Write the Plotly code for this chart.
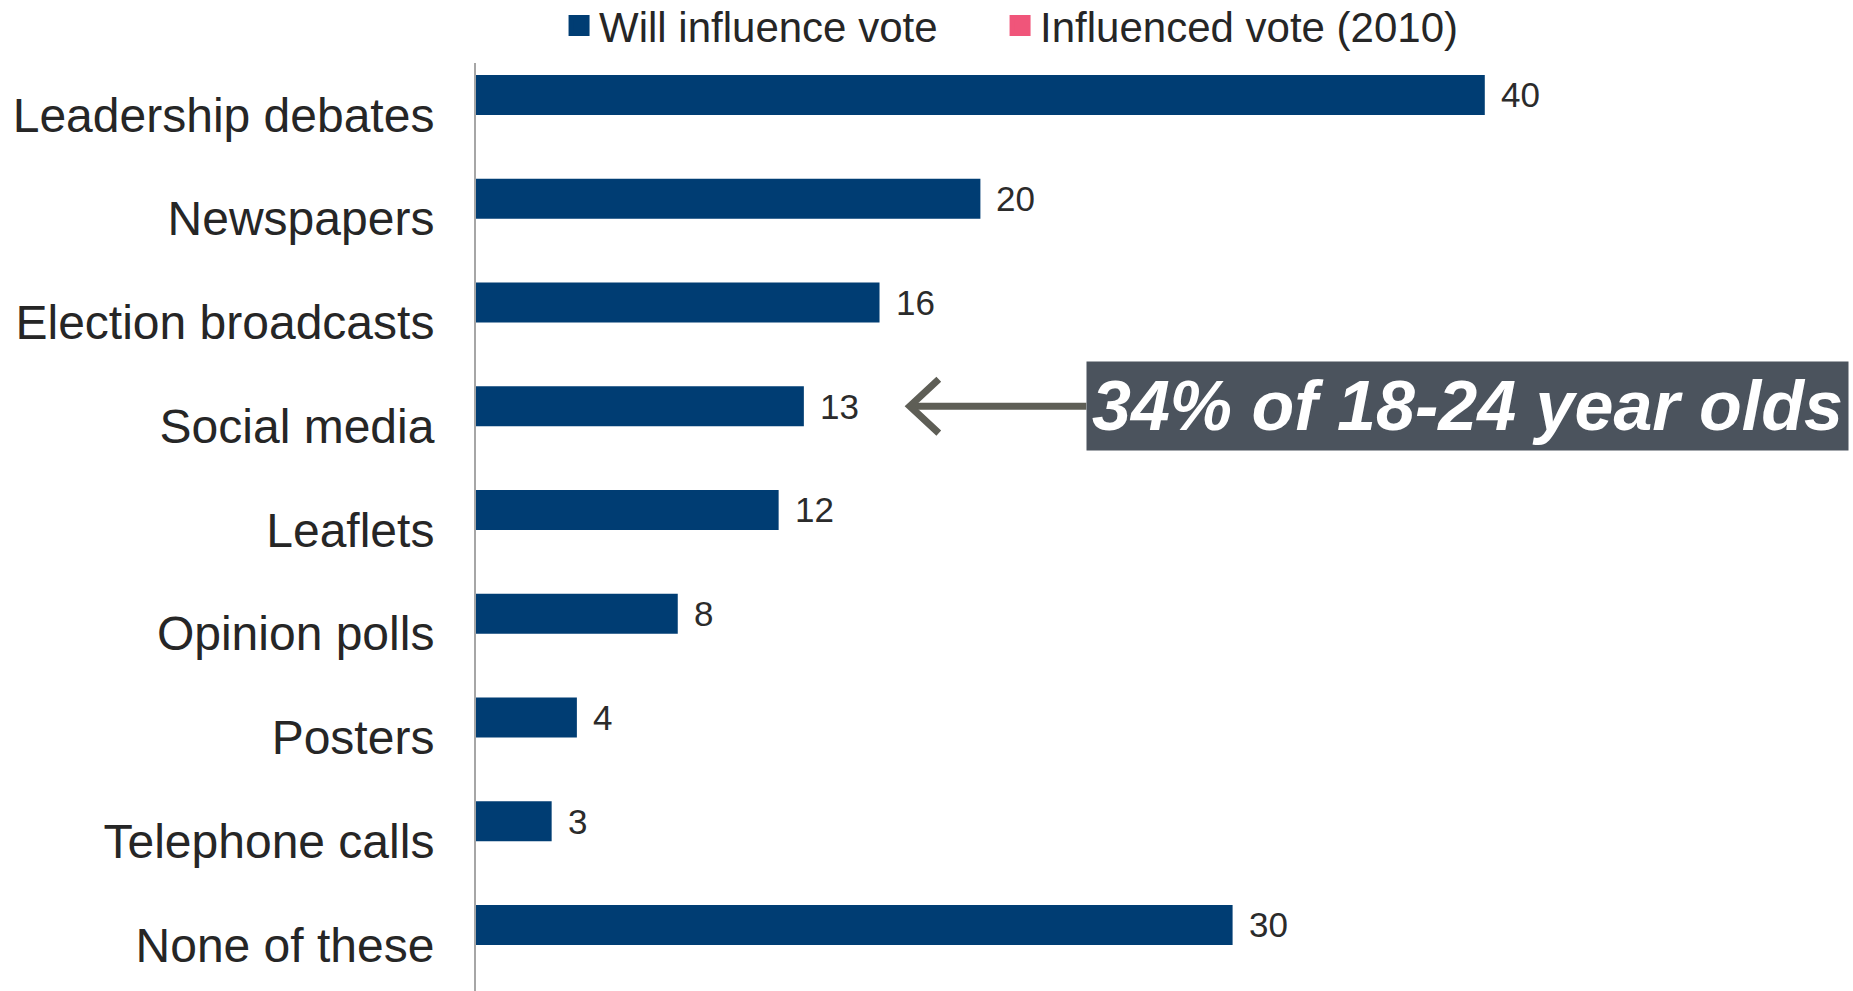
import plotly.graph_objects as go

# Survey: sources that will influence how people vote (%)
categories = [
    "Leadership debates",
    "Newspapers",
    "Election broadcasts",
    "Social media",
    "Leaflets",
    "Opinion polls",
    "Posters",
    "Telephone calls",
    "None of these",
]
will_influence = [40, 20, 16, 13, 12, 8, 4, 3, 30]
influenced_2010 = [None] * len(categories)

series_names = ["Will influence vote", "Influenced vote (2010)"]
series_colors = ["#003d73", "#f0557a"]

callout_text = "34% of 18-24 year olds"
callout_category = "Social media"

BAR_W = 0.385          # bar thickness in category units
positions = list(range(len(categories)))

fig = go.Figure()

# grouped bars: each series takes one slot, the first sits above the category centre
fig.add_trace(go.Bar(
    x=will_influence, y=positions, orientation="h",
    width=BAR_W, offset=-BAR_W,
    marker=dict(color=series_colors[0], line=dict(width=0)),
    showlegend=False, hoverinfo="x+y",
))
fig.add_trace(go.Bar(
    x=influenced_2010, y=positions, orientation="h",
    width=BAR_W, offset=0,
    marker=dict(color=series_colors[1], line=dict(width=0)),
    showlegend=False,
))

# legend entries with larger square swatches, one legend box per series
for i, (name, col) in enumerate(zip(series_names, series_colors)):
    fig.add_trace(go.Scatter(
        x=[None], y=[None], mode="markers", name=name,
        legend="legend" if i == 0 else "legend2",
        marker=dict(symbol="square", size=16, color=col, line=dict(color=col, width=5)),
    ))

# value labels to the right of each bar
for pos, val in zip(positions, will_influence):
    fig.add_annotation(
        x=val, y=pos - BAR_W / 2, xref="x", yref="y",
        text=str(val), showarrow=False, xanchor="left", yanchor="middle",
        xshift=14, font=dict(size=35, color="#2b2b2b"),
    )

# callout arrow pointing at the social media bar
cy = categories.index(callout_category) - BAR_W / 2
tip_x, box_x = 17.2, 24.2
arrow_col = "#5e5e56"
fig.add_shape(type="line", xref="x", yref="y",
              x0=tip_x + 0.1, x1=box_x, y0=cy, y1=cy,
              line=dict(color=arrow_col, width=7))
fig.add_shape(type="path", xref="x", yref="y",
              path=f"M {tip_x + 1.15} {cy - 0.26} L {tip_x} {cy} L {tip_x + 1.15} {cy + 0.26}",
              line=dict(color=arrow_col, width=7))

fig.add_annotation(
    x=box_x, y=cy, xref="x", yref="y", text=f"<b><i>{callout_text}</i></b>",
    showarrow=False, xanchor="left", yanchor="middle",
    bgcolor="#4b535d", borderpad=5,
    font=dict(size=70, color="white", family="Liberation Sans, Arial, sans-serif"),
)

legend_style = dict(
    orientation="h", xref="container", yref="container",
    y=0.974, xanchor="left", yanchor="middle",
    font=dict(size=42, color="#262626"),
    bgcolor="rgba(0,0,0,0)", itemclick=False, itemdoubleclick=False,
)

fig.update_layout(
    width=1853, height=991,
    margin=dict(l=476, r=0, t=63, b=0),
    paper_bgcolor="white", plot_bgcolor="white",
    font=dict(family="Liberation Sans, Arial, sans-serif", color="#262626"),
    barmode="overlay",
    showlegend=True,
    legend=dict(x=0.3017, **legend_style),
    legend2=dict(x=0.5397, **legend_style),
    xaxis=dict(range=[0, 54.6], visible=False, showgrid=False, zeroline=False),
    yaxis=dict(
        range=[8.444, -0.5], tickmode="array", tickvals=positions, ticktext=categories,
        showgrid=False, zeroline=False, showline=True, linecolor="#a6a6a6", linewidth=2,
        ticks="", ticklabelstandoff=30, tickfont=dict(size=48, color="#262626"),
    ),
)

fig.write_html("out.html")
